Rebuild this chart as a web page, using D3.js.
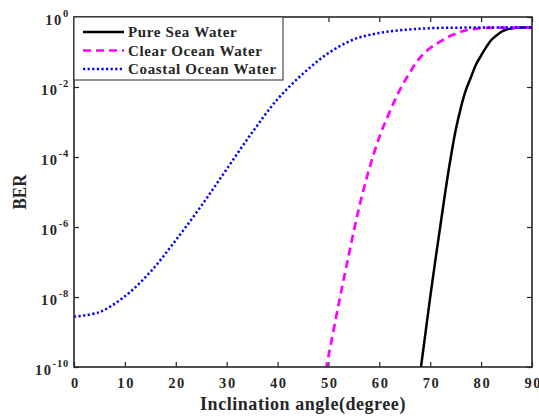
<!DOCTYPE html>
<html>
<head>
<meta charset="utf-8">
<script src="https://cdn.jsdelivr.net/npm/d3@7"></script>
<style>
  html, body { margin: 0; padding: 0; background: #fff; }
  svg { display: block; }
  text { font-family: "Liberation Serif", "Times New Roman", serif; font-weight: bold; fill: #262626; }
</style>
</head>
<body>
<svg id="chart" width="539" height="416"></svg>
<script>
// Inclination angle (degrees) and bit error rate for each water type
const pureAngles = [68, 69, 70, 71, 72, 73, 74, 75, 76, 77, 78, 79, 80, 81, 82, 83, 84, 85, 86, 87, 88, 90];
const pureBER = [6.3e-11, 7.9e-10, 1.0e-8, 1.1e-7, 1.1e-6, 1.1e-5, 9.1e-5, 5.8e-4, 2.5e-3, 8.1e-3, 1.9e-2, 4.4e-2, 7.9e-2, 0.138, 0.22, 0.295, 0.38, 0.44, 0.47, 0.49, 0.498, 0.5];

const clearAngles = [49, 50, 52, 54, 56, 58, 60, 62, 64, 66, 68, 70, 72, 74, 76, 78, 80, 85, 90];
const clearBER = [3.5e-11, 2.0e-10, 6.2e-9, 1.6e-7, 3.5e-6, 4.5e-5, 3.7e-4, 1.9e-3, 8.1e-3, 2.6e-2, 6.9e-2, 0.13, 0.20, 0.29, 0.38, 0.44, 0.48, 0.499, 0.5];

const coastalAngles = [0, 5, 10, 15, 20, 25, 30, 35, 40, 45, 50, 55, 60, 65, 70, 75, 80, 85, 90];
const coastalBER = [2.75e-9, 3.7e-9, 1.05e-8, 5.2e-8, 4.2e-7, 4.0e-6, 4.5e-5, 5.0e-4, 4.5e-3, 2.4e-2, 0.093, 0.23, 0.35, 0.43, 0.48, 0.495, 0.5, 0.5, 0.5];

const seriesNames = ["Pure Sea Water", "Clear Ocean Water", "Coastal Ocean Water"];
const xTicks = [0, 10, 20, 30, 40, 50, 60, 70, 80, 90];
const yTickExponents = [0, -2, -4, -6, -8, -10];

const series = [
  { name: seriesNames[0], x: pureAngles, y: pureBER, color: "#000000", width: 2.5, dash: null },
  { name: seriesNames[1], x: clearAngles, y: clearBER, color: "#ff00ff", width: 2.7, dash: "8,5" },
  { name: seriesNames[2], x: coastalAngles, y: coastalBER, color: "#0000ff", width: 2.5, dash: "2.2,2.4" }
];

const svg = d3.select("#chart");
const plotLeft = 74, plotRight = 532, plotTop = 17, plotBottom = 367;

const x = d3.scaleLinear().domain([0, 90]).range([plotLeft, plotRight]);
const y = d3.scaleLog().domain([1e-10, 1]).range([plotBottom, plotTop]);

svg.append("defs").append("clipPath").attr("id", "plotClip")
  .append("rect").attr("x", plotLeft).attr("y", plotTop)
  .attr("width", plotRight - plotLeft).attr("height", plotBottom - plotTop);

// Curves
const line = d3.line()
  .x(d => x(d[0]))
  .y(d => y(d[1]))
  .curve(d3.curveCatmullRom.alpha(0.5));

const plot = svg.append("g").attr("clip-path", "url(#plotClip)");
series.forEach(s => {
  plot.append("path")
    .datum(s.x.map((a, i) => [a, s.y[i]]))
    .attr("fill", "none")
    .attr("stroke", s.color)
    .attr("stroke-width", s.width)
    .attr("stroke-dasharray", s.dash)
    .attr("d", line);
});

// Axes with inward ticks on all four sides
const axisColor = "#262626";
const tickLen = 5;
const frame = svg.append("g");

const xAxisBottom = d3.axisBottom(x).tickValues(xTicks).tickSizeInner(-tickLen).tickSizeOuter(0).tickPadding(11).tickFormat(d3.format("d"));
const xAxisTop = d3.axisTop(x).tickValues(xTicks).tickSizeInner(-tickLen).tickSizeOuter(0).tickFormat("");
const yVals = yTickExponents.map(e => Math.pow(10, e));
const yAxisLeft = d3.axisLeft(y).tickValues(yVals).tickSizeInner(-tickLen).tickSizeOuter(0).tickFormat("");
const yAxisRight = d3.axisRight(y).tickValues(yVals).tickSizeInner(-tickLen).tickSizeOuter(0).tickFormat("");

function styleAxis(g) {
  g.select(".domain").remove();
  g.selectAll(".tick line").attr("stroke", axisColor).attr("stroke-width", 1.2);
}

const gb = frame.append("g").attr("transform", `translate(0,${plotBottom})`).call(xAxisBottom).call(styleAxis);
gb.selectAll(".tick text")
  .attr("font-family", "'Liberation Serif', 'Times New Roman', serif")
  .attr("font-weight", "bold")
  .attr("font-size", 14.5)
  .attr("letter-spacing", 1.6)
  .attr("dx", 0.8)
  .attr("fill", axisColor);
frame.append("g").attr("transform", `translate(0,${plotTop})`).call(xAxisTop).call(styleAxis);
frame.append("g").attr("transform", `translate(${plotLeft},0)`).call(yAxisLeft).call(styleAxis);
frame.append("g").attr("transform", `translate(${plotRight},0)`).call(yAxisRight).call(styleAxis);

// Box
frame.append("rect")
  .attr("x", plotLeft).attr("y", plotTop)
  .attr("width", plotRight - plotLeft).attr("height", plotBottom - plotTop)
  .attr("fill", "none").attr("stroke", axisColor).attr("stroke-width", 1.6);

// Y tick labels as powers of ten
yTickExponents.forEach(e => {
  const t = svg.append("text")
    .attr("x", 69)
    .attr("y", y(Math.pow(10, e)) + 8)
    .attr("text-anchor", "end")
    .attr("font-size", 14.5);
  t.append("tspan").attr("letter-spacing", 1.6).text("10");
  t.append("tspan").attr("dy", -8).attr("font-size", 10.5).attr("letter-spacing", 0.8).text(String(e));
});

// Axis titles
svg.append("text")
  .attr("x", 303)
  .attr("y", 410)
  .attr("text-anchor", "middle")
  .attr("font-size", 18)
  .attr("letter-spacing", 0.55)
  .text("Inclination angle(degree)");

svg.append("text")
  .attr("transform", `translate(26,${(plotTop + plotBottom) / 2}) scale(1.15,1) rotate(-90)`)
  .attr("text-anchor", "middle")
  .attr("font-size", 17)
  .text("BER");

// Legend
const legend = svg.append("g");
legend.append("rect")
  .attr("x", plotLeft).attr("y", plotTop).attr("width", 209).attr("height", 63)
  .attr("fill", "#fff").attr("stroke", axisColor).attr("stroke-width", 1);
series.forEach((s, i) => {
  const ly = 32 + i * 18.5;
  legend.append("line")
    .attr("x1", 83).attr("x2", 124).attr("y1", ly).attr("y2", ly)
    .attr("stroke", s.color).attr("stroke-width", s.width)
    .attr("stroke-dasharray", s.dash);
  legend.append("text")
    .attr("x", 128).attr("y", ly + 5)
    .attr("font-size", 15)
    .attr("letter-spacing", 0.65)
    .attr("fill", "#000")
    .text(s.name);
});
</script>
</body>
</html>
